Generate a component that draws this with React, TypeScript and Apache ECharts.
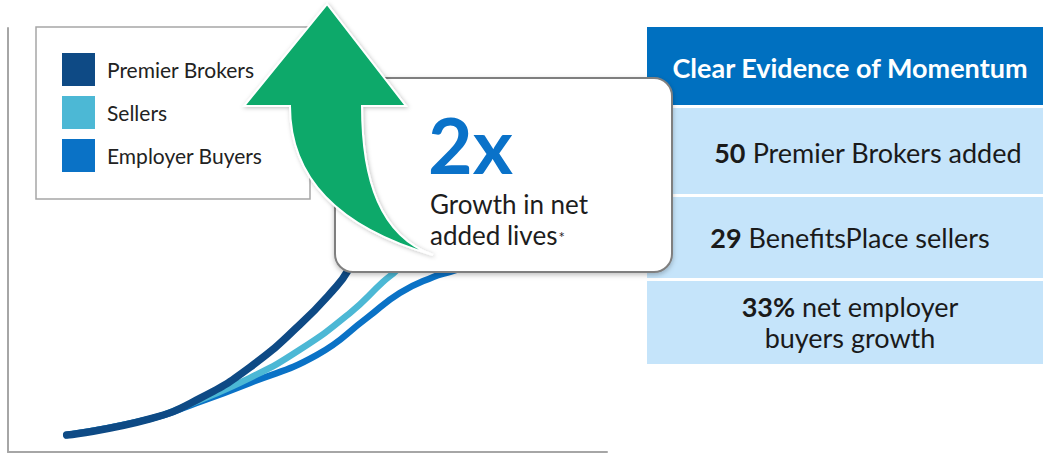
import React, { useEffect, useRef } from "react";
import * as echarts from "echarts";

// ---- data (axis units 0..100) ----
const seriesNames = ["Premier Brokers", "Sellers", "Employer Buyers"];
const premierPoints = [[9.8, 4.0], [23.7, 7.8], [32.1, 12.7], [40.4, 20.0], [48.7, 30.0], [54.3, 38.2], [56.8, 42.9], [59.6, 51.2]];
const sellersPoints = [[9.8, 4.0], [23.7, 7.8], [30.4, 11.3], [40.4, 17.5], [48.7, 24.1], [57.1, 32.8], [62.6, 40.1], [64.9, 42.9], [68.8, 48.8]];
const employerPoints = [[9.8, 4.0], [23.7, 7.8], [30.4, 11.0], [40.4, 16.3], [51.6, 22.9], [59.9, 31.6], [65.4, 37.5], [71.0, 41.3], [73.8, 42.5], [78.8, 44.8]];
const calloutBig = "2x";
const calloutLines = ["Growth in net", "added lives"];
const panelTitle = "Clear Evidence of Momentum";
const panelRows = [
  { num: "50", text: " Premier Brokers added" },
  { num: "29", text: " BenefitsPlace sellers" },
  { num: "33%", text: " net employer" },
];
const panelRow3Second = "buyers growth";

const colors = { premier: "#0e4a85", sellers: "#4cb8d5", employer: "#0a72c6" };

echarts.graphic.registerShape(
  "growthArrow",
  echarts.graphic.extendPath(
    "M327 4 L406 106 L362 106 C362 180 380 236 433 255 C340 228 290 180 290 106 L244 106 Z",
    {}
  )
);

const FONT = "Lato, 'Open Sans', sans-serif";

export default function App() {
  const ref = useRef<HTMLDivElement>(null);
  useEffect(() => {
    document.body.style.margin = "0";
    const chart = echarts.init(ref.current!, null, { renderer: "svg" });
    const mkSeries = (name: string, data: number[][], color: string, width: number, z: number) => ({
      name,
      type: "line",
      data,
      smooth: true,
      showSymbol: false,
      symbol: "none",
      z,
      itemStyle: { color },
      lineStyle: { color, width, cap: "round" },
    });
    const rowRich = { b: { fontWeight: "bold", fontSize: 27, fontFamily: FONT, fill: "#1a1a1a" } };
    chart.setOption({
      animation: false,
      grid: { left: 8, right: 436, top: 28, bottom: 2, containLabel: false },
      xAxis: {
        type: "value", min: 0, max: 100,
        axisLine: { show: true, lineStyle: { color: "#a6a6a6", width: 2 } },
        axisTick: { show: false }, axisLabel: { show: false }, splitLine: { show: false },
      },
      yAxis: {
        type: "value", min: 0, max: 100,
        axisLine: { show: true, lineStyle: { color: "#a6a6a6", width: 2 } },
        axisTick: { show: false }, axisLabel: { show: false }, splitLine: { show: false },
      },
      legend: {
        orient: "vertical",
        left: 62,
        top: 53,
        padding: 0,
        itemWidth: 33,
        itemHeight: 33,
        itemGap: 10,
        icon: "rect",
        selectedMode: false,
        data: seriesNames,
        itemStyle: { borderWidth: 0 },
        textStyle: { fontFamily: FONT, fontSize: 21, color: "#222", padding: [0, 0, 0, 7] },
      },
      series: [
        mkSeries(seriesNames[2], employerPoints, colors.employer, 6.5, 2),
        mkSeries(seriesNames[1], sellersPoints, colors.sellers, 6.5, 3),
        mkSeries(seriesNames[0], premierPoints, colors.premier, 7.5, 4),
      ],
      graphic: [
        // legend frame
        { type: "rect", z: 50, shape: { x: 36, y: 27, width: 274, height: 172 }, style: { fill: "none", stroke: "#a6a6a6", lineWidth: 1.5 } },
        // callout box
        {
          type: "rect", z: 60,
          shape: { x: 335, y: 78, width: 337, height: 194, r: 18 },
          style: { fill: "#ffffff", stroke: "#7f7f7f", lineWidth: 2, shadowBlur: 5, shadowColor: "rgba(0,0,0,0.25)", shadowOffsetY: 2 },
        },
        // arrow
        {
          type: "growthArrow", z: 70, x: 0, y: 0,
          style: { fill: "#08a96b", stroke: "#ffffff", lineWidth: 2, shadowBlur: 4, shadowColor: "rgba(0,0,0,0.25)", shadowOffsetX: 1, shadowOffsetY: 1 },
        },
        { type: "text", z: 80, style: { text: calloutBig, x: 428, y: 144, font: `bold 77px ${FONT}`, lineHeight: 70, fill: "#0a72c9", textAlign: "left", verticalAlign: "middle" } },
        { type: "text", z: 80, style: { text: calloutLines[0], x: 430, y: 204, font: `26px ${FONT}`, lineHeight: 28, fill: "#1d1d1d", textAlign: "left", verticalAlign: "middle" } },
        {
          type: "text", z: 80,
          style: {
            text: `${calloutLines[1]}{s|*}`, x: 430, y: 235, font: `26px ${FONT}`, fill: "#1d1d1d", textAlign: "left", verticalAlign: "middle",
            rich: { s: { fontSize: 15, fontFamily: FONT, fill: "#1d1d1d", padding: [4, 0, 0, 1] } },
          },
        },
        // right panel
        { type: "rect", z: 40, shape: { x: 647, y: 27, width: 396, height: 78 }, style: { fill: "#0070c0" } },
        { type: "rect", z: 40, shape: { x: 647, y: 108, width: 396, height: 86 }, style: { fill: "#c5e4fa" } },
        { type: "rect", z: 40, shape: { x: 647, y: 197, width: 396, height: 81 }, style: { fill: "#c5e4fa" } },
        { type: "rect", z: 40, shape: { x: 647, y: 281, width: 396, height: 83 }, style: { fill: "#c5e4fa" } },
        { type: "text", z: 45, style: { text: panelTitle, x: 850, y: 67, font: `bold 27px ${FONT}`, fill: "#ffffff", textAlign: "center", verticalAlign: "middle" } },
        {
          type: "text", z: 45,
          style: { text: `{b|${panelRows[0].num}}${panelRows[0].text}`, x: 868, y: 152, font: `27px ${FONT}`, fill: "#1a1a1a", textAlign: "center", verticalAlign: "middle", rich: rowRich },
        },
        {
          type: "text", z: 45,
          style: { text: `{b|${panelRows[1].num}}${panelRows[1].text}`, x: 850, y: 237, font: `27px ${FONT}`, fill: "#1a1a1a", textAlign: "center", verticalAlign: "middle", rich: rowRich },
        },
        {
          type: "text", z: 45,
          style: { text: `{b|${panelRows[2].num}}${panelRows[2].text}`, x: 850, y: 306, font: `27px ${FONT}`, fill: "#1a1a1a", textAlign: "center", verticalAlign: "middle", rich: rowRich },
        },
        { type: "text", z: 45, style: { text: panelRow3Second, x: 850, y: 337, font: `27px ${FONT}`, fill: "#1a1a1a", textAlign: "center", verticalAlign: "middle" } },
      ],
    });
    return () => chart.dispose();
  }, []);
  return <div ref={ref} style={{ width: 1043, height: 454 }} />;
}
